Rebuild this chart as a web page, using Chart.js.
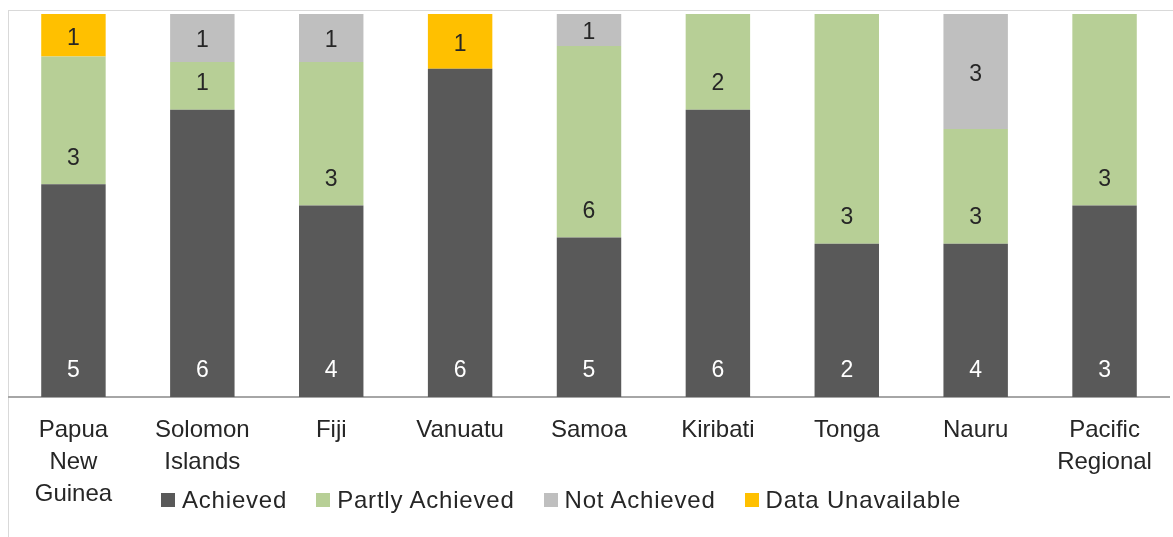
<!DOCTYPE html>
<html>
<head>
<meta charset="utf-8">
<script src="https://cdn.jsdelivr.net/npm/chart.js@4.4.1/dist/chart.umd.min.js"></script>
<style>
  html, body { margin: 0; padding: 0; background: #fff; }
  body { width: 1173px; height: 537px; position: relative; overflow: hidden; font-family: "Liberation Sans", Arial, sans-serif; }
  #frame { position: absolute; left: 8px; top: 10px; width: 1200px; height: 600px; border-top: 1px solid #d9d9d9; border-left: 1px solid #d9d9d9; }
  #wrap { position: absolute; left: 0; top: 0; width: 1173px; height: 537px; }
  #legend { position: absolute; left: 161px; top: 486px; display: flex; align-items: center; font-size: 24px; color: #262626; letter-spacing: 0.8px; }
  #legend .item { display: flex; align-items: center; margin-right: 29px; }
  #legend .box { width: 14px; height: 14px; margin-right: 7px; }
</style>
</head>
<body>
<div id="frame"></div>
<div id="wrap"><canvas id="grafico" width="1173" height="537"></canvas></div>
<div id="legend"></div>
<script>
// datos (número de resultados por país)
const paises = [
  ['Papua', 'New', 'Guinea'],
  ['Solomon', 'Islands'],
  'Fiji',
  'Vanuatu',
  'Samoa',
  'Kiribati',
  'Tonga',
  'Nauru',
  ['Pacific', 'Regional']
];
const achieved    = [5, 6, 4, 6, 5, 6, 2, 4, 3];
const partly      = [3, 1, 3, 0, 6, 2, 3, 3, 3];
const notAchieved = [0, 1, 1, 0, 1, 0, 0, 3, 0];
const unavailable = [1, 0, 0, 1, 0, 0, 0, 0, 0];

const series = [
  { label: 'Achieved',         counts: achieved,    color: '#595959', txt: '#ffffff' },
  { label: 'Partly Achieved',  counts: partly,      color: '#b7cf96', txt: '#262626' },
  { label: 'Not Achieved',     counts: notAchieved, color: '#bfbfbf', txt: '#262626' },
  { label: 'Data Unavailable', counts: unavailable, color: '#ffc000', txt: '#262626' }
];

const totales = paises.map((_, i) => series.reduce((s, d) => s + d.counts[i], 0));
const pct = (arr) => arr.map((v, i) => v / totales[i] * 100);

// etiquetas: base para achieved/partly, centro para el resto
const etiquetas = {
  id: 'etiquetas',
  afterDatasetsDraw(chart) {
    const ctx = chart.ctx;
    ctx.save();
    ctx.font = '23px "Liberation Sans", Arial, sans-serif';
    ctx.textAlign = 'center';
    ctx.textBaseline = 'middle';
    chart.data.datasets.forEach((ds, di) => {
      const meta = chart.getDatasetMeta(di);
      meta.data.forEach((bar, i) => {
        const n = series[di].counts[i];
        if (!n) return;
        const y = di < 2 ? bar.base - 26 : (bar.y + bar.base) / 2 + 3;
        ctx.fillStyle = series[di].txt;
        ctx.fillText(String(n), bar.x, y);
      });
    });
    ctx.restore();
  }
};

const grafico = new Chart(document.getElementById('grafico'), {
  type: 'bar',
  data: {
    labels: paises,
    datasets: series.map(s => ({
      label: s.label,
      data: pct(s.counts),
      backgroundColor: s.color,
      borderWidth: 0,
      categoryPercentage: 1,
      barPercentage: 0.5
    }))
  },
  options: {
    responsive: false,
    animation: false,
    layout: { padding: { left: 9, right: 4, top: 14, bottom: 0 } },
    plugins: { legend: { display: false }, tooltip: { enabled: false } },
    scales: {
      x: {
        stacked: true,
        grid: { color: 'transparent', drawTicks: false },
        border: { display: true, color: '#a6a6a6', width: 2 },
        ticks: {
          color: '#262626',
          padding: 18,
          maxRotation: 0,
          autoSkip: false,
          font: { family: '"Liberation Sans", Arial, sans-serif', size: 24, lineHeight: 1.32 }
        },
        afterFit: (s) => { s.height = 140; }
      },
      y: { stacked: true, display: false, min: 0, max: 100 }
    }
  },
  plugins: [etiquetas]
});

// leyenda
const leg = document.getElementById('legend');
series.forEach(s => {
  const it = document.createElement('div');
  it.className = 'item';
  it.innerHTML = `<span class="box" style="background:${s.color}"></span><span>${s.label}</span>`;
  leg.appendChild(it);
});
</script>
</body>
</html>
